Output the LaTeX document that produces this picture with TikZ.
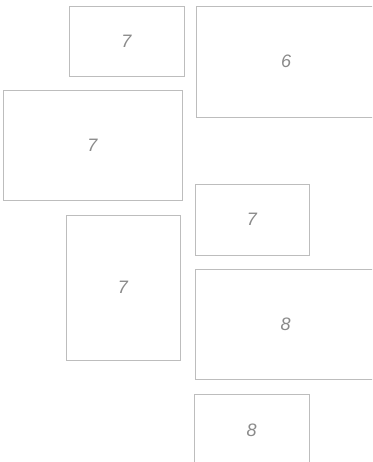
\documentclass[tikz,border=0pt]{standalone}
\usepackage{fontspec}
\usepackage{xcolor}
\usepackage{tikz}
\usetikzlibrary{positioning}
\newfontfamily\panelfont{Liberation Sans}
\definecolor{edge}{HTML}{BDBDBD}
\definecolor{digit}{HTML}{8A8A8A}

\tikzset{
    panel/.style={rectangle, draw=edge, line width=0.8pt, fill=white, inner sep=0pt,
        font=\panelfont\itshape\fontsize{18}{20}\selectfont, text=digit}
}

\begin{document}
\begin{tikzpicture}[x=1pt, y=-1pt]
    \useasboundingbox (0,0) rectangle (372,462);
    \clip (0,0) rectangle (372,462);
    \node[panel, minimum width=115pt, minimum height=70pt] (topleft) at (126.5,41) {7};
    \node[panel, minimum width=180pt, minimum height=111pt] (topright) at (286,61.5) {6};
    \node[panel, minimum width=179pt, minimum height=110pt] (wide) at (92.5,145) {7};
    \node[panel, minimum width=114pt, minimum height=71pt] (middle) at (252,219.5) {7};
    \node[panel, minimum width=114pt, minimum height=145pt] (tall) at (123,287.5) {7};
    \node[panel, minimum width=181pt, minimum height=110pt] (lowright) at (285.5,324) {8};
    \node[panel, minimum width=115pt, minimum height=72pt] (bottom) at (251.5,430) {8};
\end{tikzpicture}
\end{document}
